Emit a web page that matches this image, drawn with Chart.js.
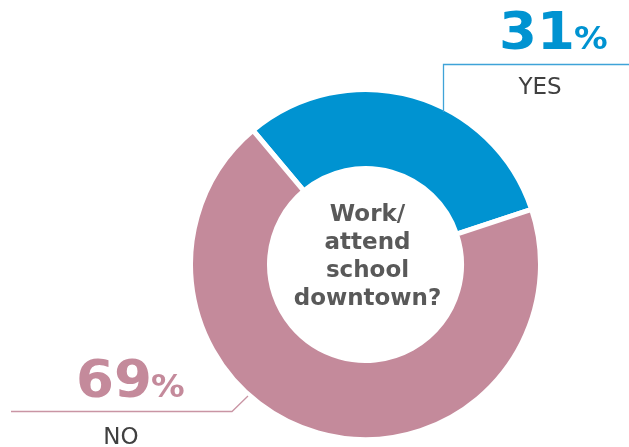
<!DOCTYPE html>
<html>
<head>
<meta charset="utf-8">
<script src="https://cdn.jsdelivr.net/npm/chart.js@4.4.0/dist/chart.umd.min.js"></script>
<style>
  html, body { margin: 0; padding: 0; background: #fff; }
  #wrap { width: 629px; height: 447px; }
</style>
</head>
<body>
<div id="wrap"><canvas id="myCanvas" width="629" height="447"></canvas></div>
<script>
let answers = ["YES", "NO"]
let percents = [31, 69]
let colours = ["#0093D1", "#C48A9B"]
let lineColours = ["#3FA3D8", "#C995A4"]
let question = ["Work/", "attend", "school", "downtown?"]

// labels + leader lines + center question
const extras = {
  id: "extras",
  afterDraw(chart) {
    let ctx = chart.ctx
    ctx.save()

    // center text
    let arc = chart.getDatasetMeta(0).data[0]
    ctx.fillStyle = "#595959"
    ctx.font = "bold 23px 'DejaVu Sans'"
    ctx.textAlign = "center"
    ctx.textBaseline = "alphabetic"
    let y0 = 221
    question.forEach((t, i) => ctx.fillText(t, arc.x + 2, y0 + i * 28))

    // YES leader
    ctx.strokeStyle = lineColours[0]
    ctx.lineWidth = 1.3
    ctx.beginPath()
    ctx.moveTo(629, 64.5)
    ctx.lineTo(443.5, 64.5)
    ctx.lineTo(443.5, 112)
    ctx.stroke()

    // NO leader
    ctx.strokeStyle = lineColours[1]
    ctx.beginPath()
    ctx.moveTo(11, 411.5)
    ctx.lineTo(232, 411.5)
    ctx.lineTo(248, 396)
    ctx.stroke()

    // percent labels, a bit widened to look like the original face
    let spots = [{ x: 499, y: 49 }, { x: 76, y: 397 }]
    spots.forEach((p, i) => {
      ctx.save()
      ctx.translate(p.x, p.y)
      ctx.scale(1.05, 1)
      ctx.textAlign = "left"
      ctx.fillStyle = colours[i]
      ctx.font = "bold 52px 'DejaVu Sans'"
      let num = String(percents[i])
      ctx.fillText(num, 0, 0)
      let w = ctx.measureText(num).width
      ctx.font = "bold 32px 'DejaVu Sans'"
      ctx.fillText("%", w - 1, 0)
      ctx.restore()
    })

    // answer names
    ctx.fillStyle = "#404040"
    ctx.font = "23px 'DejaVu Sans'"
    ctx.textAlign = "center"
    ctx.fillText(answers[0], 540, 94)
    ctx.fillText(answers[1], 121, 444)

    ctx.restore()
  }
}

let chart = new Chart(document.querySelector("#myCanvas").getContext("2d"), {
  type: "doughnut",
  data: {
    labels: answers,
    datasets: [
      {
        data: percents,
        backgroundColor: colours,
        borderColor: "#ffffff",
        borderWidth: 5,
        hoverOffset: 0,
        cutout: 96,
        rotation: -40,
      },
    ],
  },
  options: {
    responsive: false,
    animation: false,
    layout: { padding: { left: 188, top: 87, right: 86, bottom: 5 } },
    plugins: {
      legend: { display: false },
      tooltip: { enabled: false },
    },
  },
  plugins: [extras],
})
</script>
</body>
</html>
